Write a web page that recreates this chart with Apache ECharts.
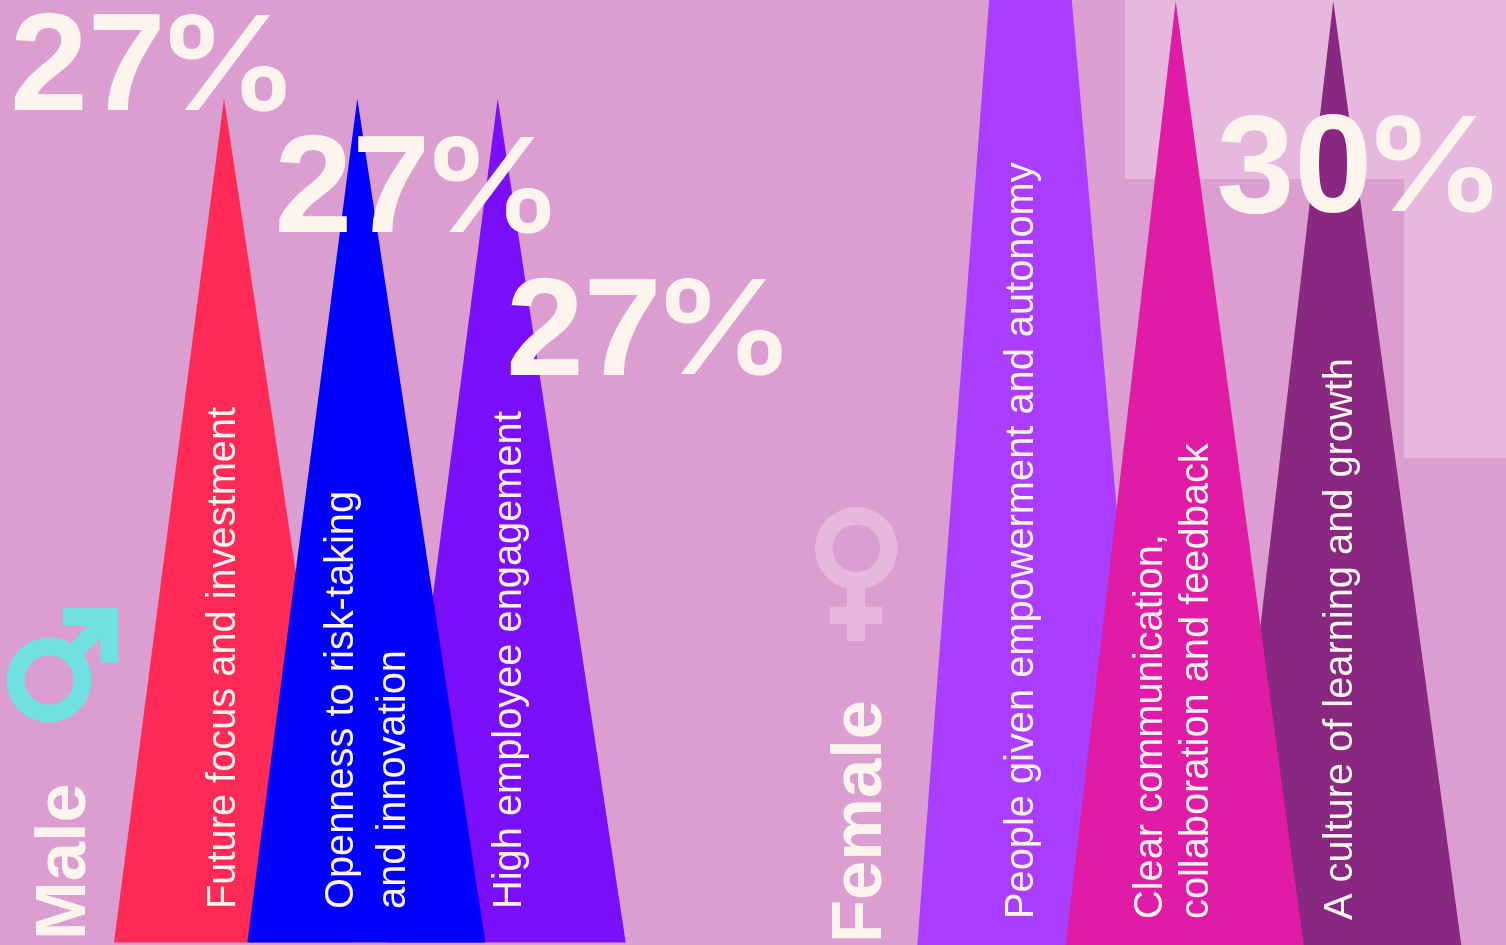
<!DOCTYPE html>
<html>
<head>
<meta charset="utf-8">
<title>Workplace factors by gender</title>
<style>
  html, body { margin: 0; padding: 0; background: #DC9ED1; }
  #chart { width: 1506px; height: 945px; }
</style>
<script src="https://cdn.jsdelivr.net/npm/echarts@6/dist/echarts.min.js"></script>
</head>
<body>
<div id="chart"></div>
<script>
// Values in percent
const maleFactors = ['Future focus and investment', 'Openness to risk-taking\nand innovation', 'High employee engagement'];
const maleValues = [27, 27, 27];
const femaleFactors = ['People given empowerment and autonomy', 'Clear communication,\ncollaboration and feedback', 'A culture of learning and growth'];
const femaleValues = [46, 30, 30];
const maleColors = ['#FF2A55', '#0000FF', '#7B0FFB'];
const femaleColors = ['#AA3DFF', '#E01BA6', '#882880'];

// Layout: spike tips on the pixel-scaled x axis, paint order, and text anchors
const maleApex = [224, 357.3, 497.7];
const femaleApex = [1027.3, 1175.7, 1333.3];
const malePaintOrder = [0, 2, 1];
const femalePaintOrder = [0, 2, 1];
const spikeLeft = 110;
const spikeRight = 128;
const maleFactorAnchors = [[[224, 909]], [[342, 909], [394.5, 909]], [[510, 909]]];
const femaleFactorAnchors = [[[1022.5, 919]], [[1151, 919], [1197, 919]], [[1341.5, 920]]];
const percentAnchors = [[10, 71.5, 'm', 0], [274.5, 193.5, 'm', 1], [506, 336, 'm', 2], [1216.5, 173, 'f', 2]];

const BG_LIGHT = '#E7B8DD';
const INK = '#FDF4EE';
const FONT = '"Liberation Sans", Arial, sans-serif';

function spikeSeries(name, values, apex, colors, order, gridIndex) {
  return {
    name,
    type: 'custom',
    xAxisIndex: gridIndex,
    yAxisIndex: gridIndex,
    z: 2,
    clip: false,
    data: order.map(function (i) { return [apex[i], values[i], i]; }),
    renderItem: function (params, api) {
      const x = api.value(0);
      const tip = api.coord([x, api.value(1)]);
      const bl = api.coord([x - spikeLeft, 0]);
      const br = api.coord([x + spikeRight, 0]);
      return {
        type: 'polygon',
        shape: { points: [tip, br, bl] },
        style: { fill: colors[api.value(2)] }
      };
    }
  };
}

function verticalText(text, anchor, size, weight) {
  return {
    type: 'text',
    z: 10,
    x: anchor[0],
    y: anchor[1],
    rotation: Math.PI / 2,
    style: { text, fill: INK, font: weight + ' ' + size + 'px ' + FONT, textAlign: 'left', textVerticalAlign: 'middle' }
  };
}

function factorTexts(labels, anchors) {
  const out = [];
  labels.forEach(function (label, i) {
    label.split('\n').forEach(function (line, j) {
      out.push(verticalText(line, anchors[i][j], 39.8, 'normal'));
    });
  });
  return out;
}

// The digits and the percent sign are set separately: the sign is a wider, lighter cut
const percentTexts = [];
percentAnchors.forEach(function (p) {
  const v = (p[2] === 'm' ? maleValues : femaleValues)[p[3]];
  percentTexts.push({
    type: 'text', z: 10, x: p[0], y: p[1],
    style: { text: String(v), fill: INK, font: 'bold 140px ' + FONT, textAlign: 'left', textVerticalAlign: 'middle' }
  });
  percentTexts.push({
    type: 'text', z: 10, x: p[0] + 146, y: p[1] - 1, scaleX: 1.1,
    style: { text: '%', fill: INK, font: '600 130px Inter', textAlign: 'left', textVerticalAlign: 'middle' }
  });
});

const panels = [
  { type: 'rect', z: 0, shape: { x: 1125, y: 0, width: 381, height: 179 }, style: { fill: BG_LIGHT } },
  { type: 'rect', z: 0, shape: { x: 1404, y: 179, width: 102, height: 279 }, style: { fill: BG_LIGHT } }
];

const genderSymbols = [
  { type: 'ring', z: 1, shape: { cx: 49, cy: 680, r: 42.5, r0: 24.5 }, style: { fill: '#70E0E0' } },
  {
    type: 'polygon', z: 1,
    shape: { points: [[63, 607.7], [118, 607.7], [118, 662.7], [100.3, 662.7], [100.3, 638.3], [83.3, 655.3], [70.7, 643.3], [87.3, 625.7], [63, 625.7]] },
    style: { fill: '#70E0E0' }
  },
  { type: 'ring', z: 1, shape: { cx: 856.3, cy: 548.3, r: 41.3, r0: 23.8 }, style: { fill: BG_LIGHT } },
  {
    type: 'polygon', z: 1,
    shape: { points: [[847, 588], [865, 588], [865, 606.7], [882, 606.7], [882, 624.3], [865, 624.3], [865, 641], [847, 641], [847, 624.3], [830, 624.3], [830, 606.7], [847, 606.7]] },
    style: { fill: BG_LIGHT }
  }
];

const chart = echarts.init(document.getElementById('chart'), null, { renderer: 'canvas' });
chart.setOption({
  backgroundColor: '#DC9ED1',
  animation: false,
  grid: [
    { left: 0, top: 0, width: 1506, height: 942.5 },
    { left: 0, top: 0, width: 1506, height: 946 }
  ],
  xAxis: [
    { type: 'value', gridIndex: 0, min: 0, max: 1506, show: false },
    { type: 'value', gridIndex: 1, min: 0, max: 1506, show: false }
  ],
  yAxis: [
    { type: 'value', gridIndex: 0, min: 0, max: 30.15, show: false },
    { type: 'value', gridIndex: 1, min: 0, max: 30.03, show: false }
  ],
  series: [
    spikeSeries('Male', maleValues, maleApex, maleColors, malePaintOrder, 0),
    spikeSeries('Female', femaleValues, femaleApex, femaleColors, femalePaintOrder, 1)
  ],
  graphic: {
    elements: panels
      .concat(genderSymbols)
      .concat(factorTexts(maleFactors, maleFactorAnchors))
      .concat(factorTexts(femaleFactors, femaleFactorAnchors))
      .concat(percentTexts)
      .concat([
        verticalText('Male', [66, 940], 70.5, 'bold'),
        verticalText('Female', [862, 943], 70.5, 'bold')
      ])
  }
});
</script>
</body>
</html>
